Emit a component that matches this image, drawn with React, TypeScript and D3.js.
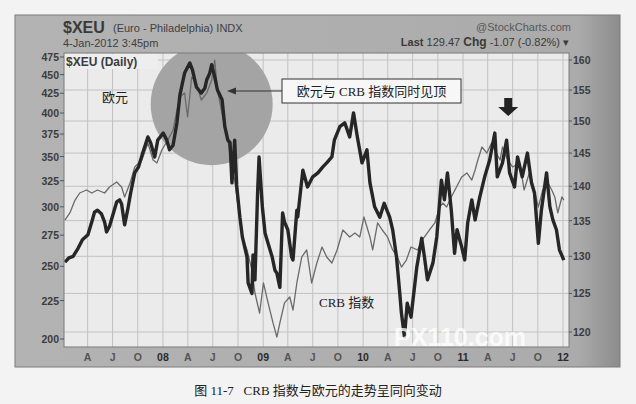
import * as d3 from 'd3';

// $XEU (thick, right axis) vs CRB index (thin, left axis), 2007–2012, log scales.

const euroSeries: [string, number][] = [
  ['2007-01-08', 129.2], ['2007-01-23', 129.8], ['2007-02-07', 130.0], ['2007-02-25', 131.1], ['2007-03-13', 132.3],
  ['2007-04-02', 133.0], ['2007-04-16', 134.8], ['2007-04-26', 136.2], ['2007-05-07', 136.5], ['2007-05-21', 136.0],
  ['2007-06-02', 134.8], ['2007-06-09', 133.4], ['2007-06-20', 134.2], ['2007-07-02', 135.8], ['2007-07-16', 137.7],
  ['2007-07-27', 138.0], ['2007-08-03', 137.4], ['2007-08-14', 134.4], ['2007-08-25', 136.5], ['2007-09-05', 139.0],
  ['2007-09-20', 142.0], ['2007-10-04', 142.9], ['2007-10-19', 145.0], ['2007-11-07', 147.5], ['2007-11-17', 146.6],
  ['2007-12-02', 144.4], ['2007-12-13', 147.0],
  ['2008-01-02', 148.1], ['2008-01-15', 147.0], ['2008-01-25', 145.5], ['2008-02-07', 146.2], ['2008-02-21', 149.7],
  ['2008-03-03', 154.2], ['2008-03-20', 157.8], ['2008-04-08', 159.5], ['2008-04-18', 158.3], ['2008-05-02', 155.5],
  ['2008-05-20', 154.5], ['2008-06-02', 155.3], ['2008-06-09', 156.7], ['2008-06-20', 157.8], ['2008-06-27', 159.2],
  ['2008-07-08', 157.2], ['2008-07-18', 155.0], ['2008-08-04', 153.4], ['2008-08-14', 149.1], ['2008-08-25', 147.0],
  ['2008-09-02', 146.6], ['2008-09-09', 140.5], ['2008-09-19', 147.0], ['2008-09-26', 140.2], ['2008-10-08', 135.5],
  ['2008-10-17', 132.7], ['2008-11-03', 129.9], ['2008-11-07', 126.4], ['2008-11-21', 125.0], ['2008-11-25', 130.2],
  ['2008-12-02', 126.8], ['2008-12-12', 139.4], ['2008-12-17', 144.4], ['2008-12-29', 137.0],
  ['2009-01-08', 133.2], ['2009-01-15', 132.3], ['2009-01-26', 130.9], ['2009-02-03', 129.9], ['2009-02-13', 128.1],
  ['2009-02-20', 127.7], ['2009-03-03', 125.8], ['2009-03-13', 136.1], ['2009-03-20', 134.8], ['2009-04-01', 133.7],
  ['2009-04-15', 129.9], ['2009-04-20', 129.5], ['2009-05-04', 136.5], ['2009-05-07', 135.5], ['2009-05-26', 142.4],
  ['2009-06-12', 139.9], ['2009-07-01', 141.4], ['2009-07-20', 142.0], ['2009-08-07', 142.9], ['2009-08-21', 143.5],
  ['2009-09-09', 144.4], ['2009-09-18', 147.0], ['2009-10-08', 149.1], ['2009-10-26', 149.7], ['2009-11-13', 147.5],
  ['2009-11-27', 151.3], ['2009-12-11', 147.5], ['2009-12-28', 143.5],
  ['2010-01-15', 145.5], ['2010-01-26', 140.5], ['2010-02-12', 137.0], ['2010-03-03', 135.5], ['2010-03-19', 137.5],
  ['2010-04-08', 135.5], ['2010-04-19', 133.7], ['2010-05-03', 129.9], ['2010-05-14', 125.4], ['2010-05-21', 122.4],
  ['2010-06-01', 119.4], ['2010-06-11', 123.7], ['2010-06-25', 121.9], ['2010-07-16', 128.5], ['2010-08-03', 132.5],
  ['2010-08-13', 129.9], ['2010-08-24', 126.8], ['2010-09-13', 129.1], ['2010-09-27', 132.7], ['2010-10-14', 140.9],
  ['2010-10-25', 138.0], ['2010-11-05', 142.0], ['2010-11-19', 136.5], ['2010-12-01', 130.4], ['2010-12-10', 133.7],
  ['2010-12-27', 131.3],
  ['2011-01-07', 129.5], ['2011-01-18', 134.7], ['2011-02-02', 138.0], ['2011-02-14', 135.1], ['2011-03-03', 138.4],
  ['2011-03-21', 141.4], ['2011-04-08', 143.9], ['2011-04-27', 148.1], ['2011-05-06', 141.4], ['2011-05-25', 143.5],
  ['2011-06-09', 147.0], ['2011-06-20', 142.0], ['2011-07-08', 139.9], ['2011-07-19', 144.4], ['2011-08-05', 141.4],
  ['2011-08-24', 145.0], ['2011-09-08', 140.5], ['2011-09-19', 139.0], ['2011-10-03', 131.8], ['2011-10-14', 136.5],
  ['2011-11-02', 142.0], ['2011-11-14', 137.0], ['2011-11-25', 135.1], ['2011-12-08', 133.7], ['2011-12-19', 130.9],
  ['2012-01-04', 129.47],
];

const crbSeries: [string, number][] = [
  ['2007-01-08', 288.1], ['2007-01-26', 294.4], ['2007-02-14', 306.3], ['2007-03-03', 313.0], ['2007-03-28', 315.9],
  ['2007-04-16', 313.0], ['2007-05-07', 315.9], ['2007-06-02', 313.0], ['2007-06-20', 318.8], ['2007-07-16', 323.7],
  ['2007-08-03', 318.8], ['2007-08-14', 309.2], ['2007-09-03', 322.7], ['2007-09-20', 339.0], ['2007-10-16', 346.3],
  ['2007-11-07', 364.9], ['2007-11-26', 346.3], ['2007-12-10', 343.2], ['2007-12-28', 357.1],
  ['2008-01-19', 368.2], ['2008-02-07', 379.7], ['2008-02-21', 403.7], ['2008-03-03', 420.2], ['2008-03-20', 425.3],
  ['2008-03-31', 395.2], ['2008-04-15', 446.7], ['2008-05-02', 438.6], ['2008-05-20', 416.3], ['2008-06-09', 425.3],
  ['2008-06-27', 442.6], ['2008-07-08', 470.6], ['2008-07-18', 429.3], ['2008-08-06', 395.2], ['2008-08-25', 368.2],
  ['2008-09-09', 339.0], ['2008-09-19', 325.7], ['2008-10-08', 288.1], ['2008-10-17', 273.5], ['2008-11-03', 262.8],
  ['2008-11-21', 247.1], ['2008-12-02', 230.3], ['2008-12-19', 216.6],
  ['2009-01-02', 237.5], ['2009-01-19', 223.4], ['2009-02-06', 210.1], ['2009-02-20', 201.2], ['2009-03-03', 210.1],
  ['2009-03-20', 223.4], ['2009-04-08', 227.5], ['2009-04-20', 218.6], ['2009-05-04', 237.5], ['2009-05-22', 257.2],
  ['2009-06-09', 262.8], ['2009-06-27', 237.5], ['2009-07-16', 252.5], ['2009-08-04', 265.2], ['2009-08-21', 257.2],
  ['2009-09-09', 252.5], ['2009-09-28', 262.8], ['2009-10-19', 279.4], ['2009-11-13', 273.5], ['2009-12-02', 276.8],
  ['2009-12-20', 273.5],
  ['2010-01-04', 290.8], ['2010-01-15', 282.0], ['2010-01-26', 273.5], ['2010-02-05', 262.8], ['2010-02-23', 285.5],
  ['2010-03-12', 279.4], ['2010-03-31', 273.5], ['2010-04-19', 262.8], ['2010-05-06', 257.2], ['2010-05-21', 249.4],
  ['2010-06-08', 254.8], ['2010-06-25', 265.2], ['2010-07-19', 262.8], ['2010-08-05', 271.0], ['2010-08-31', 279.4],
  ['2010-09-20', 285.5], ['2010-10-08', 299.8], ['2010-10-19', 303.5], ['2010-11-02', 299.8], ['2010-11-19', 309.2],
  ['2010-12-08', 318.8], ['2010-12-27', 328.7],
  ['2011-01-15', 332.8], ['2011-02-02', 325.7], ['2011-02-14', 335.9], ['2011-02-24', 346.3], ['2011-03-11', 360.4],
  ['2011-03-29', 353.8], ['2011-04-15', 364.9], ['2011-04-27', 357.1], ['2011-05-16', 346.3], ['2011-05-25', 360.4],
  ['2011-06-13', 346.3], ['2011-07-01', 339.0], ['2011-07-27', 343.2], ['2011-08-12', 315.9], ['2011-08-31', 332.8],
  ['2011-09-12', 322.7], ['2011-10-03', 299.8], ['2011-10-19', 315.9], ['2011-11-07', 322.7], ['2011-11-21', 315.9],
  ['2011-12-02', 309.2], ['2011-12-13', 294.4], ['2011-12-28', 309.2], ['2012-01-04', 306.3],
];

const leftTicks = [200, 225, 250, 275, 300, 325, 350, 375, 400, 425, 450, 475];
const rightTicks = [120, 125, 130, 135, 140, 145, 150, 155, 160];
const xTickDates = [
  '2007-04-01', '2007-07-01', '2007-10-01', '2008-01-01', '2008-04-01', '2008-07-01', '2008-10-01',
  '2009-01-01', '2009-04-01', '2009-07-01', '2009-10-01', '2010-01-01', '2010-04-01', '2010-07-01',
  '2010-10-01', '2011-01-01', '2011-04-01', '2011-07-01', '2011-10-01', '2012-01-01',
];
const xTickLabels = ['A', 'J', 'O', '08', 'A', 'J', 'O', '09', 'A', 'J', 'O', '10', 'A', 'J', 'O', '11', 'A', 'J', 'O', '12'];

const parse = d3.timeParse('%Y-%m-%d');
const SANS = '"Liberation Sans", Arial, sans-serif';
const SERIF = '"Liberation Serif", "Noto Sans CJK SC", serif';

// plot frame
const PL = 64, PR = 569, PT = 53, PB = 347;

export default function App() {
  const x = d3.scaleTime()
    .domain([parse('2007-01-01')!, parse('2012-01-01')!])
    .range([63, 563]);
  const yCrb = d3.scaleLog().domain([200, 475]).range([339, 57]);
  const yEuro = d3.scaleLog().domain([120, 160]).range([332, 60]);

  const crbLine = d3.line<[string, number]>()
    .x((d) => x(parse(d[0])!))
    .y((d) => yCrb(d[1]))
    .curve(d3.curveLinear);
  const euroLine = d3.line<[string, number]>()
    .x((d) => x(parse(d[0])!))
    .y((d) => yEuro(d[1]))
    .curve(d3.curveLinear);

  const arrowX = x(parse('2011-06-15')!);
  const arrowY = yEuro(150.8);

  return (
    <div style={{ position: 'absolute', left: 0, top: 0 }}>
      <svg width={636} height={404} style={{ display: 'block' }}>
        <defs>
          <linearGradient id="panelGrad" x1="0" x2="1" y1="0" y2="0">
            <stop offset="0" stopColor="#b3b3b3" />
            <stop offset="0.93" stopColor="#ababab" />
            <stop offset="1" stopColor="#8c8c8c" />
          </linearGradient>
          <clipPath id="plotClip">
            <rect x={PL} y={PT} width={PR - PL} height={PB - PT} />
          </clipPath>
        </defs>

        <rect x={0} y={0} width={636} height={404} fill="#f3f3f3" />

        {/* outer grey panel */}
        <rect x={15} y={15} width={605} height={352} fill="url(#panelGrad)" stroke="#7d7d7d" strokeWidth={1} />

        {/* header */}
        <text x={63} y={33} fontFamily={SANS} fontSize={16} fontWeight="bold" fill="#3a3a3a">$XEU</text>
        <text x={113} y={32} fontFamily={SANS} fontSize={11} fill="#3f3f3f">(Euro - Philadelphia) INDX</text>
        <text x={63} y={47} fontFamily={SANS} fontSize={11} fill="#3f3f3f">4-Jan-2012 3:45pm</text>
        <text x={571} y={31} textAnchor="end" fontFamily={SANS} fontSize={11} fill="#585858">@StockCharts.com</text>
        <text x={569} y={46} textAnchor="end" fontFamily={SANS} fontSize={11} fill="#3a3a3a">
          <tspan fontWeight="bold">Last</tspan> 129.47  <tspan fontWeight="bold" fontSize={12}>Chg</tspan> -1.07 (-0.82%) ▾
        </text>

        {/* plot background */}
        <rect x={PL} y={PT} width={PR - PL} height={PB - PT} fill="#ebebeb" />

        {/* grid */}
        {rightTicks.map((t) => (
          <line key={'h' + t} x1={PL} x2={PR} y1={yEuro(t)} y2={yEuro(t)} stroke="#c2c2c2" strokeWidth={1} />
        ))}
        {xTickDates.map((d) => (
          <line key={'v' + d} x1={x(parse(d)!)} x2={x(parse(d)!)} y1={PT} y2={PB} stroke="#c2c2c2" strokeWidth={1} />
        ))}

        <g clipPath="url(#plotClip)">
          {/* highlight circle around the 2008 double top */}
          <circle cx={x(parse('2008-06-27')!)} cy={yEuro(152.7)} r={61} fill="#a4a4a4" />
          <path d={crbLine(crbSeries) ?? ''} fill="none" stroke="#6a6a6a" strokeWidth={1.3} strokeLinejoin="round" />
          <path d={euroLine(euroSeries) ?? ''} fill="none" stroke="#262626" strokeWidth={3.4} strokeLinejoin="round" />
        </g>

        <rect x={PL} y={PT} width={PR - PL} height={PB - PT} fill="none" stroke="#7a7a7a" strokeWidth={1} />

        {/* legend tag */}
        <rect x={PL + 1} y={PT + 1} width={93} height={15} fill="#eeeeee" />
        <text x={66} y={66} fontFamily={SANS} fontSize={12} fontWeight="bold" fill="#3c3c3c">$XEU (Daily)</text>

        {/* left axis (CRB) */}
        {leftTicks.map((t) => (
          <g key={'l' + t}>
            <line x1={PL - 4} x2={PL} y1={yCrb(t)} y2={yCrb(t)} stroke="#555" strokeWidth={1} />
            <text x={PL - 5} y={yCrb(t) + 4} textAnchor="end" fontFamily={SANS} fontSize={10.5} fontWeight="bold" fill="#3c3c3c">{t}</text>
          </g>
        ))}

        {/* right axis (euro) */}
        {rightTicks.map((t) => (
          <g key={'r' + t}>
            <line x1={PR} x2={PR + 3} y1={yEuro(t)} y2={yEuro(t)} stroke="#555" strokeWidth={1} />
            <text x={PR + 4} y={yEuro(t) + 4} fontFamily={SANS} fontSize={10.5} fontWeight="bold" fill="#3c3c3c">{t}</text>
          </g>
        ))}

        {/* x axis labels */}
        {xTickDates.map((d, i) => (
          <text key={'x' + d} x={x(parse(d)!)} y={361} textAnchor="middle" fontFamily={SANS} fontSize={10.5}
            fontWeight="bold" fill={xTickLabels[i].length > 1 ? '#2a2a2a' : '#555'}>{xTickLabels[i]}</text>
        ))}

        {/* annotations */}
        <text x={102} y={102} fontFamily={SERIF} fontSize={13} fill="#222">欧元</text>
        <text x={319} y={307} fontFamily={SERIF} fontSize={13} fill="#222">CRB 指数</text>

        <line x1={282} x2={233} y1={91} y2={91} stroke="#333" strokeWidth={1} />
        <path d="M227,91 L236,87.5 L236,94.5 Z" fill="#333" />
        <rect x={282} y={79} width={179} height={24} fill="#f7f7f7" stroke="#333" strokeWidth={1} />
        <text x={371.5} y={96} textAnchor="middle" fontFamily={SERIF} fontSize={13} fill="#222">欧元与 CRB 指数同时见顶</text>

        {/* down arrow over the 2011 top */}
        <path
          d={`M${arrowX - 4},${arrowY - 18} L${arrowX + 4},${arrowY - 18} L${arrowX + 4},${arrowY - 9} L${arrowX + 10},${arrowY - 9} L${arrowX},${arrowY} L${arrowX - 10},${arrowY - 9} L${arrowX - 4},${arrowY - 9} Z`}
          fill="#222"
        />

        {/* scan watermark */}
        <text x={394} y={346} fontFamily={SANS} fontSize={25} fontWeight="bold" fill="#ffffff" opacity={0.75}>PX110.com</text>

        {/* caption */}
        <text x={318} y={395} textAnchor="middle" fontFamily={SERIF} fontSize={13} fill="#222">
          图 11-7{'\u00a0\u00a0\u00a0'}CRB 指数与欧元的走势呈同向变动
        </text>
      </svg>
    </div>
  );
}
